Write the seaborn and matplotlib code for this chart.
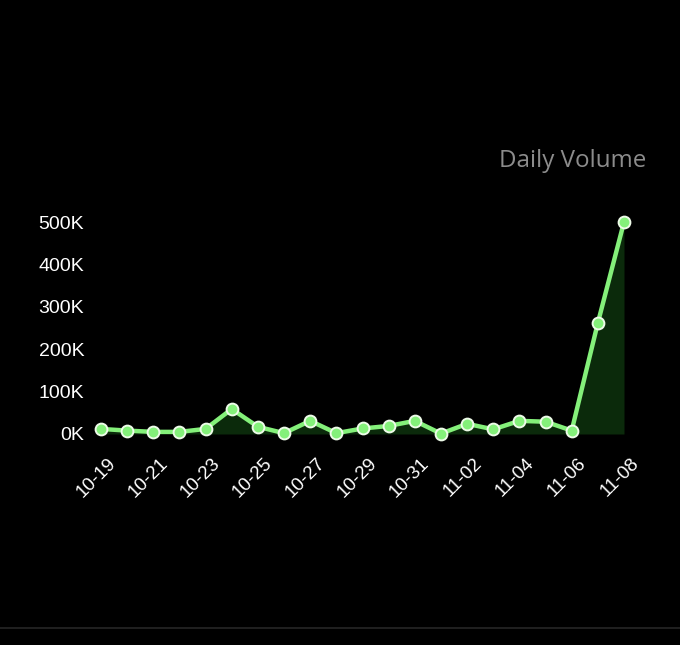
import matplotlib
matplotlib.use("Agg")
import matplotlib.pyplot as plt
import matplotlib.transforms as mtransforms
from matplotlib.lines import Line2D
import seaborn as sns
import pandas as pd
import numpy as np

dates = ["10-19", "10-20", "10-21", "10-22", "10-23", "10-24", "10-25", "10-26",
         "10-27", "10-28", "10-29", "10-30", "10-31", "11-01", "11-02", "11-03",
         "11-04", "11-05", "11-06", "11-07", "11-08"]
volume = [12000, 8000, 5000, 5000, 12000, 59000, 17000, 2000,
          31000, 2000, 13000, 19000, 31000, 1000, 24000, 11000,
          31000, 29000, 8000, 262000, 500000]
y_ticks = [0, 100000, 200000, 300000, 400000, 500000]
y_labels = ["0K", "100K", "200K", "300K", "400K", "500K"]
title = "Daily Volume"

sns.set_theme(style="dark")
plt.rcParams["font.family"] = ["Liberation Sans", "DejaVu Sans"]

BG = "#000000"
LINE = "#84f07a"
FILL = "#0b2a0b"

fig = plt.figure(figsize=(6.8, 6.45), dpi=100, facecolor=BG)
W, H = 680, 645
x0, x1 = 101, 624
y0, y1 = 434, 222
ax = fig.add_axes([x0 / W, (H - y0) / H, (x1 - x0) / W, (y0 - y1) / H])
ax.set_facecolor(BG)

df = pd.DataFrame({"idx": np.arange(len(dates)), "date": dates, "volume": volume})

ax.fill_between(df["idx"], 0, df["volume"], color=FILL, linewidth=0, zorder=1)
sns.lineplot(data=df, x="idx", y="volume", ax=ax, color=LINE, linewidth=3.2,
             marker="o", markersize=8.5, markerfacecolor=LINE,
             markeredgecolor="#eefbe9", markeredgewidth=1.4, clip_on=False, zorder=3)

ax.set_xlim(0, len(dates) - 1)
ax.set_ylim(0, 500000)
ax.set_xlabel("")
ax.set_ylabel("")
ax.grid(False)
for s in ax.spines.values():
    s.set_visible(False)

ax.set_yticks(y_ticks)
ax.set_yticklabels(y_labels, color="white", fontsize=14)
ax.tick_params(axis="y", length=0, pad=12)

tick_idx = list(range(0, len(dates), 2))
ax.set_xticks(tick_idx)
ax.set_xticklabels([dates[i] for i in tick_idx], color="white", fontsize=13.5,
                   rotation=45, ha="right", rotation_mode="anchor")
ax.tick_params(axis="x", length=0, pad=15)
offset = mtransforms.ScaledTranslation(6 / 100, 0, fig.dpi_scale_trans)
for lbl in ax.get_xticklabels():
    lbl.set_transform(lbl.get_transform() + offset)

fig.text(646 / W, (H - 161) / H, title, color="#8c8c8c", fontsize=17.4,
         ha="right", va="center", family=["Open Sans", "DejaVu Sans"])

fig.add_artist(Line2D([0, 1], [(H - 627.5) / H] * 2, transform=fig.transFigure,
                      color="#262626", linewidth=1.2))

fig.savefig("out.png", dpi=100, facecolor=BG)
